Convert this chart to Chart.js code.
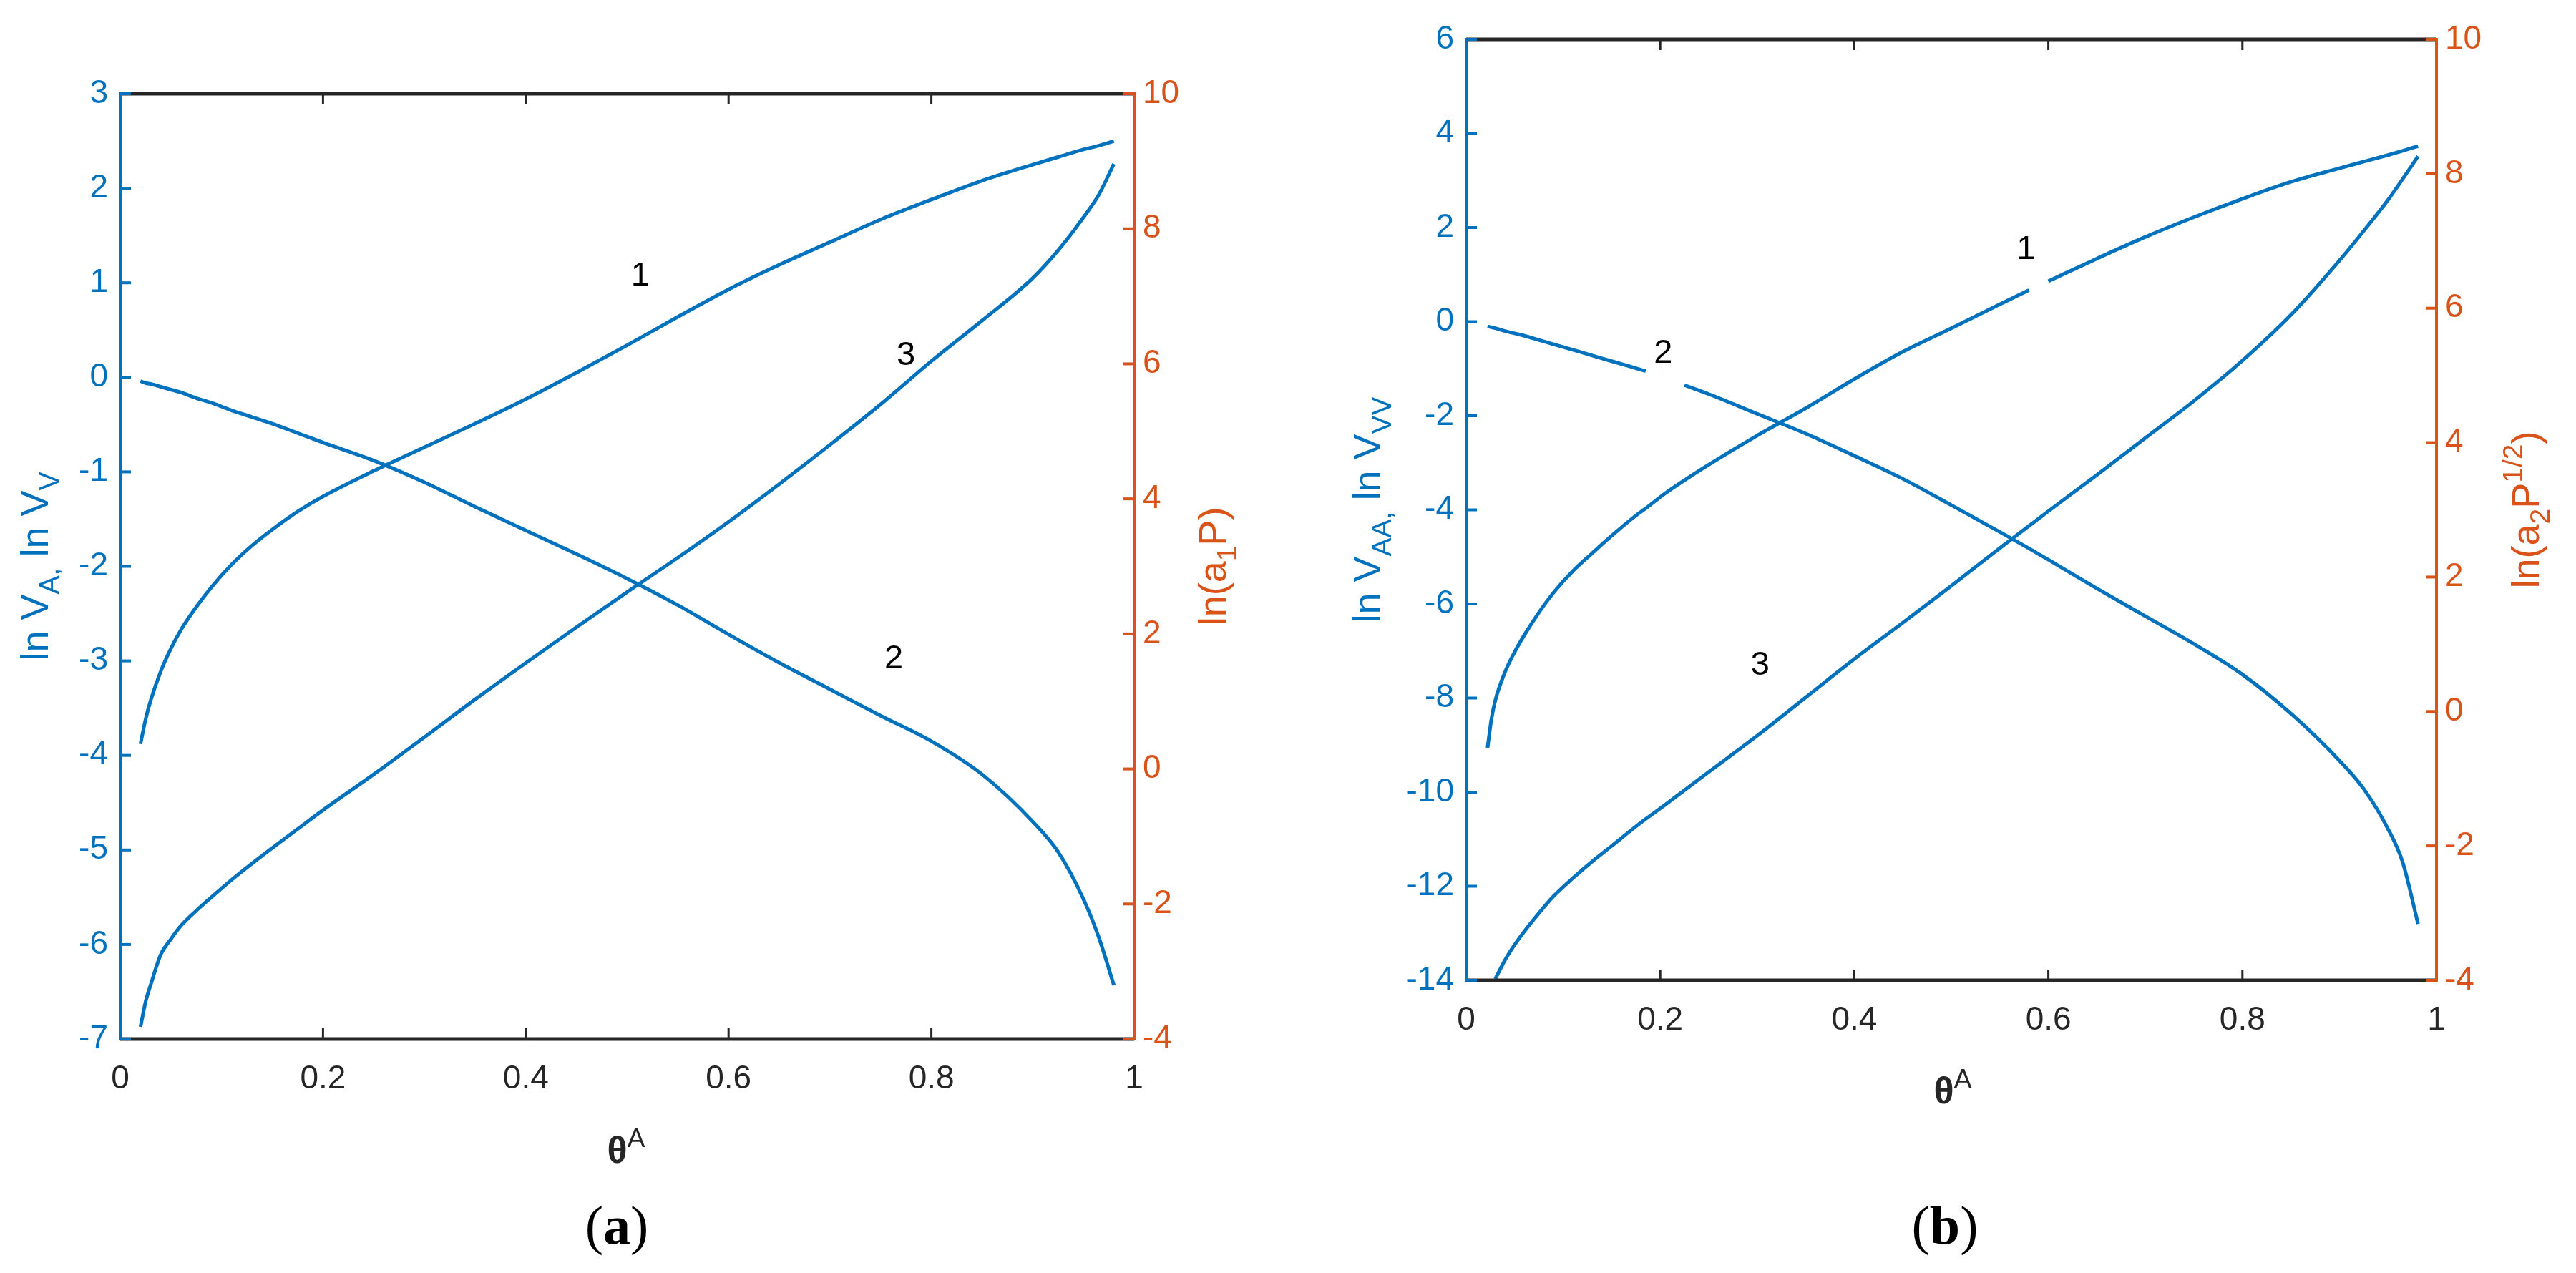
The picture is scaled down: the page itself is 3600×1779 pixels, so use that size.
<!DOCTYPE html>
<html>
<head>
<meta charset="utf-8">
<script src="https://cdn.jsdelivr.net/npm/chart.js@4.4.1/dist/chart.umd.min.js"></script>
<style>
html, body { margin: 0; padding: 0; background: #ffffff; }
#lienzo { position: relative; width: 3600px; height: 1779px; overflow: hidden; background: #ffffff; }
canvas { position: absolute; top: 0; }
#graficaA { left: 0; }
#graficaB { left: 1800px; }
</style>
</head>
<body>
<div id="lienzo">
<canvas id="graficaA" width="1800" height="1779"></canvas>
<canvas id="graficaB" width="1800" height="1779"></canvas>
</div>
<script>
// panel (a)
const thetaA = [0.02, 0.025, 0.03, 0.04, 0.05, 0.06, 0.075, 0.09, 0.11, 0.13, 0.15, 0.175, 0.2, 0.25, 0.3, 0.35, 0.4, 0.45, 0.5, 0.55, 0.6, 0.65, 0.7, 0.75, 0.8, 0.85, 0.9, 0.925, 0.95, 0.965, 0.98];
const lnVA = [-3.88, -3.62, -3.42, -3.11, -2.87, -2.67, -2.43, -2.22, -1.98, -1.78, -1.61, -1.42, -1.26, -0.99, -0.74, -0.49, -0.23, 0.05, 0.34, 0.64, 0.93, 1.19, 1.43, 1.67, 1.88, 2.08, 2.25, 2.33, 2.41, 2.45, 2.50];
const lnVV = [-0.04, -0.06, -0.07, -0.10, -0.13, -0.16, -0.22, -0.27, -0.35, -0.42, -0.49, -0.59, -0.69, -0.88, -1.11, -1.37, -1.62, -1.87, -2.13, -2.41, -2.72, -3.02, -3.30, -3.58, -3.85, -4.20, -4.70, -5.02, -5.52, -5.92, -6.43];
const lnA1P = [-3.82, -3.45, -3.20, -2.75, -2.52, -2.32, -2.10, -1.90, -1.64, -1.40, -1.17, -0.89, -0.61, -0.08, 0.47, 1.03, 1.57, 2.10, 2.62, 3.13, 3.66, 4.22, 4.80, 5.40, 6.04, 6.64, 7.27, 7.68, 8.17, 8.50, 8.96];

// panel (b)
const thetaB = [0.022, 0.026, 0.03, 0.04, 0.05, 0.06, 0.075, 0.09, 0.11, 0.13, 0.15, 0.175, 0.185, 0.205, 0.225, 0.25, 0.3, 0.35, 0.4, 0.45, 0.5, 0.55, 0.58, 0.59, 0.6, 0.65, 0.7, 0.75, 0.8, 0.85, 0.9, 0.925, 0.95, 0.965, 0.981];
const lnVAA = [-9.06, -8.45, -8.05, -7.45, -7.02, -6.66, -6.18, -5.76, -5.30, -4.92, -4.55, -4.12, -3.97, -3.65, -3.37, -3.04, -2.42, -1.84, -1.22, -0.64, -0.14, 0.37, 0.67, null, 0.86, 1.34, 1.80, 2.22, 2.61, 2.97, 3.26, 3.40, 3.54, 3.63, 3.73];
const lnVVV = [-0.10, -0.12, -0.14, -0.20, -0.25, -0.30, -0.39, -0.48, -0.60, -0.72, -0.84, -0.99, -1.05, null, -1.35, -1.54, -1.96, -2.38, -2.85, -3.34, -3.90, -4.47, -4.82, -4.94, -5.06, -5.67, -6.26, -6.85, -7.50, -8.33, -9.33, -9.93, -10.78, -11.48, -12.80];
const lnA2P = [null, null, -3.98, -3.70, -3.47, -3.27, -3.00, -2.75, -2.48, -2.23, -2.00, -1.71, -1.60, -1.39, -1.17, -0.90, -0.36, 0.21, 0.78, 1.32, 1.87, 2.43, 2.76, 2.87, 2.98, 3.52, 4.07, 4.62, 5.22, 5.90, 6.71, 7.15, 7.61, 7.92, 8.26];

// escalas
const rangoIzqA = [-7, 3, 1];
const rangoIzqB = [-14, 6, 2];
const rangoDer = [-4, 10, 2];

const AZUL = '#0072BD';
const NARANJA = '#D95319';
const NEGRO = '#262626';
const SANS = '"Liberation Sans", Arial, sans-serif';
const SERIF = '"Liberation Serif", "Times New Roman", serif';

function puntos(theta, valores) {
	return theta.map((t, i) => ({ x: t, y: valores[i] }));
}

function dibujarTexto(ctx, partes, x, y, tam, familia, color, girado) {
	ctx.save();
	ctx.translate(x, y);
	if (girado) ctx.rotate(-Math.PI / 2);
	ctx.fillStyle = color;
	ctx.textBaseline = 'alphabetic';
	ctx.textAlign = 'left';
	const fuente = p => ((p[2] || '') + ' ' + (p[1] ? Math.round(tam * 0.72) : tam) + 'px ' + familia).trim();
	let ancho = 0;
	partes.forEach(p => { ctx.font = fuente(p); ancho += ctx.measureText(p[0]).width; });
	let cx = -ancho / 2;
	partes.forEach(p => {
		ctx.font = fuente(p);
		const dy = p[1] === -1 ? tam * 0.28 : (p[1] === 1 ? -tam * 0.42 : 0);
		ctx.fillText(p[0], cx, dy);
		cx += ctx.measureText(p[0]).width;
	});
	ctx.restore();
}

const marco = {
	id: 'marco',
	afterDraw(chart, args, op) {
		const ctx = chart.ctx;
		const a = chart.chartArea;
		const sx = chart.scales.x, sy = chart.scales.y, sy1 = chart.scales.y1;
		const largo = 15;
		ctx.save();
		ctx.lineCap = 'butt';

		ctx.strokeStyle = NEGRO;
		ctx.lineWidth = 3;
		sx.ticks.forEach(t => {
			const px = sx.getPixelForValue(t.value);
			ctx.beginPath();
			ctx.moveTo(px, a.bottom); ctx.lineTo(px, a.bottom - largo);
			ctx.moveTo(px, a.top); ctx.lineTo(px, a.top + largo);
			ctx.stroke();
		});
		ctx.lineWidth = 5;
		ctx.beginPath();
		ctx.moveTo(a.left, a.top); ctx.lineTo(a.right, a.top);
		ctx.moveTo(a.left, a.bottom); ctx.lineTo(a.right, a.bottom);
		ctx.stroke();

		ctx.strokeStyle = AZUL;
		ctx.lineWidth = 4;
		ctx.beginPath();
		ctx.moveTo(a.left, a.top - 2); ctx.lineTo(a.left, a.bottom + 2);
		ctx.stroke();
		sy.ticks.forEach(t => {
			const py = sy.getPixelForValue(t.value);
			ctx.beginPath();
			ctx.moveTo(a.left, py); ctx.lineTo(a.left + largo, py);
			ctx.stroke();
		});

		ctx.strokeStyle = NARANJA;
		ctx.beginPath();
		ctx.moveTo(a.right, a.top - 2); ctx.lineTo(a.right, a.bottom + 2);
		ctx.stroke();
		sy1.ticks.forEach(t => {
			const py = sy1.getPixelForValue(t.value);
			ctx.beginPath();
			ctx.moveTo(a.right, py); ctx.lineTo(a.right - largo, py);
			ctx.stroke();
		});
		ctx.restore();

		const medio = (a.top + a.bottom) / 2;
		dibujarTexto(ctx, op.tituloIzq, op.baseIzq, medio, 54, SANS, AZUL, true);
		dibujarTexto(ctx, op.tituloDer, op.baseDer, medio, 54, SANS, NARANJA, true);
		dibujarTexto(ctx, [['\u03b8', 0, 'bold'], ['A', 1]], op.theta[0], op.theta[1], 52, SANS, NEGRO, false);
		dibujarTexto(ctx, [['(', 0], [op.letra, 0, 'bold'], [')', 0]], op.rotulo[0], op.rotulo[1], 76, SERIF, '#000000', false);

		ctx.save();
		ctx.fillStyle = '#000000';
		ctx.font = '47px ' + SANS;
		ctx.textAlign = 'center';
		ctx.textBaseline = 'middle';
		op.etiquetas.forEach(e => {
			ctx.fillText(e[0], sx.getPixelForValue(e[1]), sy.getPixelForValue(e[2]));
		});
		ctx.restore();
	}
};

function crearGrafica(lienzo, theta, c1, c2, c3, izq, caja, extra) {
	const linea = (datos, eje) => ({
		data: puntos(theta, datos),
		yAxisID: eje,
		borderColor: AZUL,
		borderWidth: 5,
		pointRadius: 0,
		fill: false,
		cubicInterpolationMode: 'monotone'
	});
	const fuente = { family: SANS, size: 46 };
	return new Chart(lienzo, {
		type: 'line',
		data: { datasets: [linea(c1, 'y'), linea(c2, 'y'), linea(c3, 'y1')] },
		plugins: [marco],
		options: {
			responsive: false,
			animation: false,
			devicePixelRatio: 1,
			layout: { padding: { left: 0, right: 0, bottom: 0, top: caja.arriba } },
			plugins: { legend: { display: false }, tooltip: { enabled: false }, marco: extra },
			scales: {
				x: {
					type: 'linear', position: 'bottom', min: 0, max: 1,
					ticks: {
						stepSize: 0.2, color: NEGRO, font: fuente, padding: 29, maxRotation: 0,
						callback: v => String(Math.round(v * 10) / 10)
					},
					grid: { display: false, drawTicks: false },
					border: { display: false },
					afterFit: s => { s.height = caja.abajo; }
				},
				y: {
					type: 'linear', position: 'left', min: izq[0], max: izq[1],
					ticks: { stepSize: izq[2], color: AZUL, font: fuente, padding: 17 },
					grid: { display: false, drawTicks: false },
					border: { display: false },
					afterFit: s => { s.width = caja.izq; }
				},
				y1: {
					type: 'linear', position: 'right', min: rangoDer[0], max: rangoDer[1],
					ticks: { stepSize: rangoDer[2], color: NARANJA, font: fuente, padding: 12 },
					grid: { display: false, drawTicks: false },
					border: { display: false },
					afterFit: s => { s.width = caja.der; }
				}
			}
		}
	});
}

const graficaA = document.getElementById('graficaA');
const graficaB = document.getElementById('graficaB');

crearGrafica(graficaA, thetaA, lnVA, lnVV, lnA1P, rangoIzqA,
	{ arriba: 131, abajo: 327, izq: 168, der: 215 },
	{
		tituloIzq: [['ln V', 0], ['A,', -1], [' ln V', 0], ['V', -1]],
		tituloDer: [['ln(a', 0], ['1', -1], ['P)', 0]],
		baseIzq: 67, baseDer: 1713,
		theta: [875, 1625], rotulo: [862, 1738], letra: 'a',
		etiquetas: [['1', 0.513, 1.07], ['3', 0.775, 0.23], ['2', 0.763, -2.98]]
	});

crearGrafica(graficaB, thetaB, lnVAA, lnVVV, lnA2P, rangoIzqB,
	{ arriba: 55, abajo: 409, izq: 249, der: 195 },
	{
		tituloIzq: [['ln V', 0], ['AA,', -1], [' ln V', 0], ['VV', -1]],
		tituloDer: [['ln(a', 0], ['2', -1], ['P', 0], ['1/2', 1], [')', 0]],
		baseIzq: 129, baseDer: 1748,
		theta: [929, 1542], rotulo: [918, 1738], letra: 'b',
		etiquetas: [['1', 0.577, 1.53], ['2', 0.203, -0.68], ['3', 0.303, -7.31]]
	});
</script>
</body>
</html>
